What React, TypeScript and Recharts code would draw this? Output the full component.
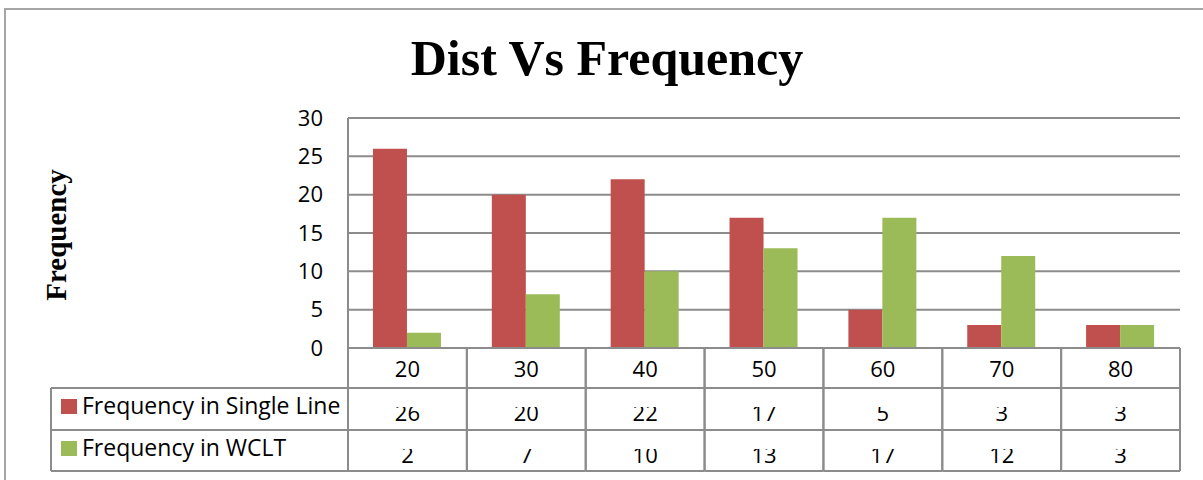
import { BarChart, Bar, XAxis, YAxis, CartesianGrid } from 'recharts';

const distances = ['20', '30', '40', '50', '60', '70', '80'];
const singleLine = [26, 20, 22, 17, 5, 3, 3];
const wclt = [2, 7, 10, 13, 17, 12, 3];
const yTicks = [0, 5, 10, 15, 20, 25, 30];

const seriesNames = ['Frequency in Single Line', 'Frequency in WCLT'];
const colors = ['#C0504D', '#9BBB59'];

const data = distances.map((d, i) => ({ dist: d, single: singleLine[i], wclt: wclt[i] }));

const W = 1203;
const H = 480;
const PLOT_L = 348;
const PLOT_R = 1180;
const PLOT_T = 118;
const PLOT_B = 348;
const ROW1 = 388;
const ROW2 = 430;
const ROW3 = 471;
const LEG_L = 51;
const LINE = '#8c8c8c';
const FONT = '"Open Sans", sans-serif';

function TableTick(props: any) {
  const { x, payload, index } = props;
  const colW = (PLOT_R - PLOT_L) / distances.length;
  const left = x - colW / 2;
  const right = x + colW / 2;
  const vals = [singleLine[index], wclt[index]];
  return (
    <g>
      <defs>
        <clipPath id={`c1-${index}`}>
          <rect x={left} y={407} width={colW} height={ROW2 - 407} />
        </clipPath>
        <clipPath id={`c2-${index}`}>
          <rect x={left} y={449} width={colW} height={ROW3 - 449} />
        </clipPath>
      </defs>
      <text x={x} y={377} textAnchor="middle" fontFamily={FONT} fontSize={22} fill="#000">
        {payload.value}
      </text>
      <text x={x} y={421} textAnchor="middle" fontFamily={FONT} fontSize={22} fill="#000" clipPath={`url(#c1-${index})`}>
        {vals[0]}
      </text>
      <text x={x} y={463} textAnchor="middle" fontFamily={FONT} fontSize={22} fill="#000" clipPath={`url(#c2-${index})`}>
        {vals[1]}
      </text>
      <line x1={left} y1={PLOT_B} x2={left} y2={ROW3} stroke={LINE} strokeWidth={2} />
      <line x1={right} y1={PLOT_B} x2={right} y2={ROW3} stroke={LINE} strokeWidth={2} />
      <line x1={left} y1={ROW1} x2={right} y2={ROW1} stroke={LINE} strokeWidth={2} />
      <line x1={left} y1={ROW2} x2={right} y2={ROW2} stroke={LINE} strokeWidth={2} />
      <line x1={left} y1={ROW3} x2={right} y2={ROW3} stroke={LINE} strokeWidth={2} />
    </g>
  );
}

export default function App() {
  return (
    <div style={{ position: 'absolute', left: 0, top: 0, width: W, height: H, background: '#fff' }}>
      <BarChart
        width={W}
        height={H}
        data={data}
        margin={{ top: PLOT_T, right: W - PLOT_R, left: PLOT_L - 80, bottom: 8 }}
        barCategoryGap="21%"
        barGap={0}
      >
        <CartesianGrid vertical={false} stroke={LINE} strokeWidth={2} />
        <XAxis
          dataKey="dist"
          height={H - PLOT_B - 8}
          axisLine={{ stroke: LINE, strokeWidth: 2 }}
          tickLine={false}
          tickSize={0}
          tickMargin={0}
          interval={0}
          tick={<TableTick />}
        />
        <YAxis
          width={80}
          domain={[0, 30]}
          ticks={yTicks}
          axisLine={{ stroke: LINE, strokeWidth: 2 }}
          tickLine={false}
          tickSize={0}
          tickMargin={25}
          tick={{ fill: '#000', fontSize: 22, fontFamily: FONT }}
        />
        <Bar dataKey="single" fill={colors[0]} isAnimationActive={false} />
        <Bar dataKey="wclt" fill={colors[1]} isAnimationActive={false} />
      </BarChart>
      <svg width={W} height={H} style={{ position: 'absolute', left: 0, top: 0, pointerEvents: 'none' }}>
        <rect x={5} y={9} width={W} height={H} fill="none" stroke="#a6a6a6" strokeWidth={2} />
        <text x={607} y={75} textAnchor="middle" fontFamily='"Liberation Serif", serif' fontWeight="bold" fontSize={50} fill="#000">
          Dist Vs Frequency
        </text>
        <text
          x={66}
          y={235}
          textAnchor="middle"
          transform="rotate(-90, 66, 235)"
          fontFamily='"Liberation Serif", serif'
          fontWeight="bold"
          fontSize={29}
          fill="#000"
        >
          Frequency
        </text>
        <line x1={LEG_L} y1={ROW1} x2={PLOT_L} y2={ROW1} stroke={LINE} strokeWidth={2} />
        <line x1={LEG_L} y1={ROW2} x2={PLOT_L} y2={ROW2} stroke={LINE} strokeWidth={2} />
        <line x1={LEG_L} y1={ROW3} x2={PLOT_L} y2={ROW3} stroke={LINE} strokeWidth={2} />
        <line x1={LEG_L} y1={ROW1} x2={LEG_L} y2={ROW3} stroke={LINE} strokeWidth={2} />
        {seriesNames.map((name, i) => {
          const top = i === 0 ? ROW1 : ROW2;
          return (
            <g key={name}>
              <rect x={61} y={top + 11} width={16} height={15} fill={colors[i]} />
              <text x={82} y={top + 26} fontFamily={FONT} fontSize={23} fill="#000">
                {name}
              </text>
            </g>
          );
        })}
      </svg>
    </div>
  );
}
